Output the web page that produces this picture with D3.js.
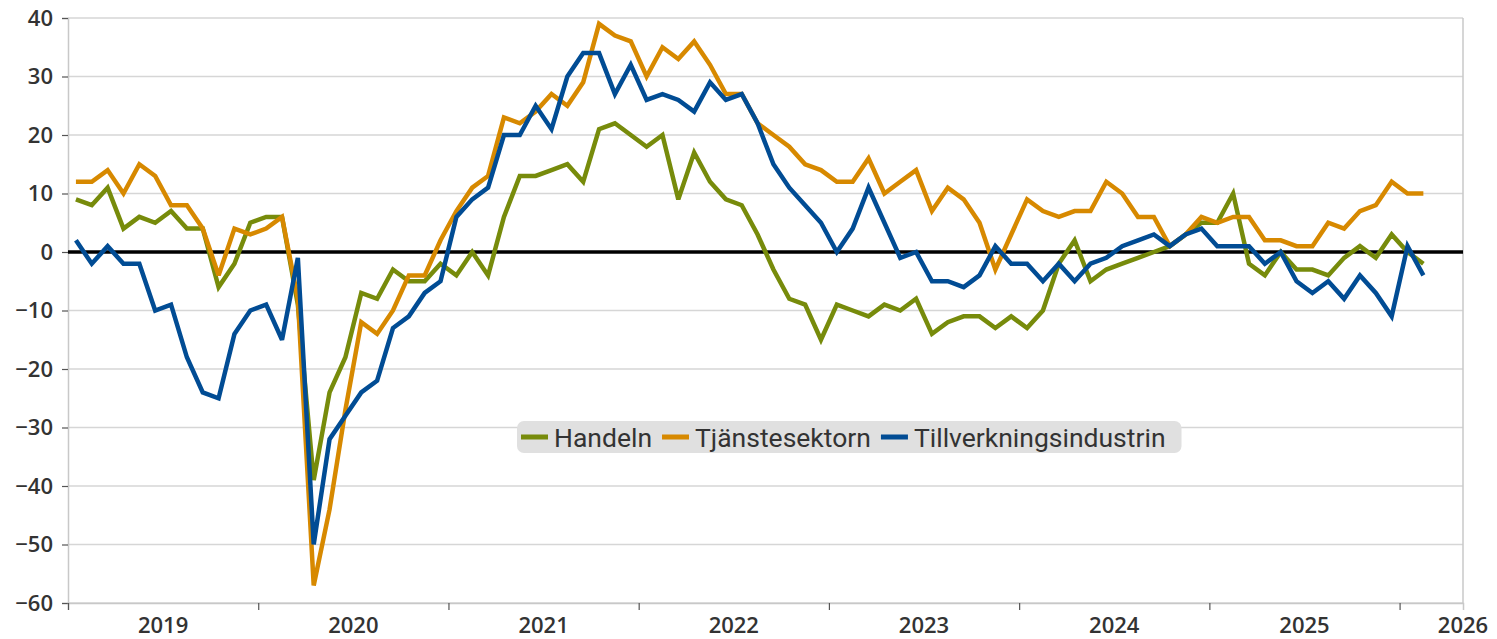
<!DOCTYPE html>
<html>
<head>
<meta charset="utf-8">
<script src="https://cdn.jsdelivr.net/npm/d3@7"></script>
<style>
  body { margin: 0; background: #fff; }
  svg { display: block; }
  text { font-family: "Open Sans", "Liberation Sans", sans-serif; fill: #333; }
</style>
</head>
<body>
<div id="chart"></div>
<script>
// monthly values, Jan 2019 .. Feb 2026
var years = [2019, 2020, 2021, 2022, 2023, 2024, 2025, 2026];
var yTicks = [-60, -50, -40, -30, -20, -10, 0, 10, 20, 30, 40];

var handeln = [9, 8, 11, 4, 6, 5, 7, 4, 4, -6, -2, 5, 6, 6,
  -9, -39, -24, -18, -7, -8, -3, -5, -5, -2, -4, 0, -4, 6, 13, 13,
  14, 15, 12, 21, 22, 20, 18, 20, 9, 17, 12, 9, 8, 3,
  -3, -8, -9, -15, -9, -10, -11, -9, -10, -8, -14, -12, -11, -11, -13, -11,
  -13, -10, -2, 2, -5, -3, -2, -1, 0, 1, 3, 5, 5, 10,
  -2, -4, 0, -3, -3, -4, -1, 1, -1, 3, 0, -2];

var tjanst = [12, 12, 14, 10, 15, 13, 8, 8, 4, -4, 4, 3, 4, 6,
  -8, -57, -44, -27, -12, -14, -10, -4, -4, 2, 7, 11, 13, 23, 22, 24,
  27, 25, 29, 39, 37, 36, 30, 35, 33, 36, 32, 27, 27, 22,
  20, 18, 15, 14, 12, 12, 16, 10, 12, 14, 7, 11, 9, 5, -3, 3,
  9, 7, 6, 7, 7, 12, 10, 6, 6, 1, 3, 6, 5, 6,
  6, 2, 2, 1, 1, 5, 4, 7, 8, 12, 10, 10];

var tillv = [2, -2, 1, -2, -2, -10, -9, -18, -24, -25, -14, -10, -9, -15,
  -1, -50, -32, -28, -24, -22, -13, -11, -7, -5, 6, 9, 11, 20, 20, 25,
  21, 30, 34, 34, 27, 32, 26, 27, 26, 24, 29, 26, 27, 22,
  15, 11, 8, 5, 0, 4, 11, 5, -1, 0, -5, -5, -6, -4, 1, -2,
  -2, -5, -2, -5, -2, -1, 1, 2, 3, 1, 3, 4, 1, 1,
  1, -2, 0, -5, -7, -5, -8, -4, -7, -11, 1, -4];

var series = [
  { name: "Handeln", values: handeln, color: "#778B0B" },
  { name: "Tjänstesektorn", values: tjanst, color: "#D78900" },
  { name: "Tillverkningsindustrin", values: tillv, color: "#014C94" }
];

var W = 1497, H = 639;
var margin = { left: 68, right: 34, top: 18, bottom: 36 };
var nMonths = 88;

var svg = d3.select("#chart").append("svg")
  .attr("width", W).attr("height", H);

var x = d3.scaleLinear().domain([0, nMonths]).range([margin.left, W - margin.right]);
var y = d3.scaleLinear().domain([-60, 40]).range([H - margin.bottom, margin.top]);

// gridlines
svg.append("g").selectAll("line").data(yTicks).enter().append("line")
  .attr("x1", x(0)).attr("x2", x(nMonths))
  .attr("y1", function(d){ return y(d); }).attr("y2", function(d){ return y(d); })
  .attr("stroke", "#d6d6d6").attr("stroke-width", 1.5);

// right border
svg.append("line")
  .attr("x1", x(nMonths)).attr("x2", x(nMonths))
  .attr("y1", y(40)).attr("y2", y(-60))
  .attr("stroke", "#c8c8c8").attr("stroke-width", 1.5);

// y axis
var yAxis = d3.axisLeft(y).tickValues(yTicks).tickSize(6).tickPadding(9);
var yg = svg.append("g").attr("transform", "translate(" + x(0) + ",0)").call(yAxis);
yg.select(".domain").attr("stroke", "#c8c8c8").attr("stroke-width", 1.5);
yg.selectAll(".tick line").attr("stroke", "#555").attr("stroke-width", 1.2);
yg.selectAll(".tick text")
  .style("font-size", "22px").style("font-weight", 600)
  .attr("fill", "#333").attr("dy", "0.34em");

// x axis: ticks at year boundaries
var xAxis = d3.axisBottom(x).tickValues(d3.range(0, nMonths, 12)).tickSize(7).tickFormat("");
var xg = svg.append("g").attr("transform", "translate(0," + y(-60) + ")").call(xAxis);
xg.select(".domain").attr("stroke", "#c8c8c8").attr("stroke-width", 1.5);
xg.selectAll(".tick line").attr("stroke", "#555").attr("stroke-width", 1.2);

svg.append("g").selectAll("text").data(years).enter().append("text")
  .attr("x", function(d, i){ return Math.min(x(i * 12 + 6), x(nMonths)); })
  .attr("y", y(-60) + 30)
  .attr("text-anchor", "middle")
  .style("font-size", "22px").style("font-weight", 600)
  .text(function(d){ return d; });

// zero line
svg.append("line")
  .attr("x1", x(0)).attr("x2", x(nMonths))
  .attr("y1", y(0)).attr("y2", y(0))
  .attr("stroke", "#000").attr("stroke-width", 3.5);

// series lines
var line = d3.line()
  .x(function(d, i){ return x(i + 0.5); })
  .y(function(d){ return y(d); });

svg.append("g").selectAll("path").data(series).enter().append("path")
  .attr("d", function(s){ return line(s.values); })
  .attr("fill", "none")
  .attr("stroke", function(s){ return s.color; })
  .attr("stroke-width", 4.5)
  .attr("stroke-linejoin", "miter")
  .attr("stroke-miterlimit", 3);

// legend
var lg = svg.append("g").attr("transform", "translate(517,421)");
var bg = lg.append("rect").attr("rx", 7).attr("ry", 7)
  .attr("height", 32).attr("fill", "#e0e0e0");
var cx = 4;
series.forEach(function(s){
  lg.append("line")
    .attr("x1", cx).attr("x2", cx + 27)
    .attr("y1", 16).attr("y2", 16)
    .attr("stroke", s.color).attr("stroke-width", 5);
  var t = lg.append("text")
    .attr("x", cx + 33).attr("y", 16).attr("dy", "0.36em")
    .style("font-size", "26.5px")
    .style("font-family", "Roboto, 'Open Sans', sans-serif")
    .text(s.name);
  cx += 33 + t.node().getComputedTextLength() + 10;
});
bg.attr("width", cx + 6);
</script>
</body>
</html>
